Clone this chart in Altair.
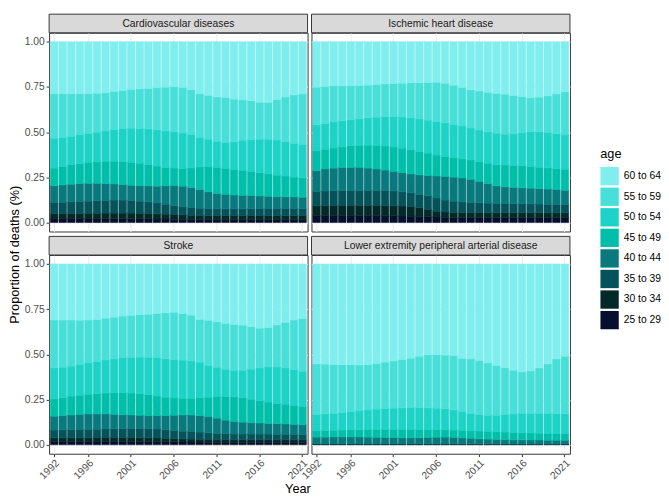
import altair as alt
import pandas as pd
import numpy as np

FONT = "Liberation Sans"

years = list(range(1992, 2022))
tick_years = [1992, 1996, 2001, 2006, 2011, 2016, 2021]
ages = ["25 to 29", "30 to 34", "35 to 39", "40 to 44", "45 to 49", "50 to 54", "55 to 59", "60 to 64"]
age_colors = ["#06102E", "#032A28", "#05535A", "#087A7E", "#00BFAA", "#1DD3C7", "#48DFD9", "#80EEEE"]
causes = ["Cardiovascular diseases", "Ischemic heart disease", "Stroke",
          "Lower extremity peripheral arterial disease"]

# Cumulative proportion reached at the top of each age band, 1992..2021
cvd_29 = [0.022,0.022,0.022,0.022,0.022,0.022,0.021,0.021,0.021,0.020,0.020,0.020,0.019,0.019,0.018,0.018,0.017,0.017,0.017,0.016,0.016,0.016,0.016,0.016,0.016,0.016,0.016,0.016,0.016,0.016]
cvd_34 = [0.050,0.050,0.050,0.050,0.051,0.051,0.052,0.052,0.052,0.052,0.051,0.050,0.048,0.046,0.044,0.042,0.040,0.039,0.038,0.038,0.038,0.038,0.038,0.038,0.038,0.038,0.038,0.038,0.038,0.038]
cvd_39 = [0.111,0.112,0.114,0.116,0.118,0.120,0.122,0.124,0.124,0.122,0.118,0.114,0.108,0.101,0.093,0.088,0.083,0.079,0.077,0.075,0.075,0.075,0.075,0.076,0.077,0.078,0.078,0.078,0.078,0.078]
cvd_44 = [0.203,0.208,0.212,0.215,0.217,0.217,0.215,0.213,0.210,0.206,0.204,0.203,0.201,0.203,0.204,0.201,0.194,0.183,0.170,0.161,0.156,0.152,0.150,0.149,0.147,0.145,0.143,0.142,0.142,0.140]
cvd_49 = [0.301,0.310,0.321,0.326,0.332,0.335,0.339,0.339,0.337,0.333,0.328,0.321,0.312,0.304,0.301,0.299,0.302,0.308,0.310,0.304,0.299,0.294,0.289,0.282,0.275,0.269,0.262,0.257,0.251,0.247]
cvd_54 = [0.466,0.471,0.477,0.486,0.493,0.500,0.507,0.515,0.520,0.522,0.520,0.518,0.513,0.507,0.502,0.495,0.488,0.471,0.461,0.448,0.443,0.446,0.455,0.458,0.461,0.461,0.457,0.448,0.438,0.431]
cvd_59 = [0.713,0.713,0.713,0.713,0.713,0.715,0.718,0.726,0.731,0.737,0.740,0.742,0.746,0.749,0.751,0.746,0.735,0.713,0.704,0.695,0.692,0.683,0.679,0.674,0.665,0.665,0.680,0.695,0.706,0.712]

ihd_29 = [0.038,0.038,0.038,0.038,0.038,0.038,0.038,0.038,0.037,0.037,0.036,0.035,0.034,0.032,0.030,0.028,0.027,0.027,0.027,0.027,0.027,0.027,0.027,0.027,0.027,0.027,0.027,0.027,0.027,0.027]
ihd_34 = [0.092,0.093,0.094,0.094,0.094,0.094,0.094,0.094,0.093,0.092,0.091,0.089,0.082,0.072,0.062,0.058,0.056,0.055,0.055,0.055,0.054,0.054,0.054,0.054,0.054,0.054,0.054,0.054,0.054,0.054]
ihd_39 = [0.172,0.174,0.176,0.177,0.177,0.177,0.178,0.178,0.177,0.175,0.170,0.164,0.156,0.148,0.135,0.124,0.118,0.114,0.111,0.109,0.107,0.106,0.105,0.104,0.104,0.103,0.102,0.101,0.100,0.099]
ihd_44 = [0.287,0.296,0.301,0.305,0.305,0.305,0.301,0.296,0.290,0.283,0.276,0.269,0.264,0.260,0.257,0.255,0.251,0.246,0.239,0.228,0.215,0.203,0.197,0.194,0.192,0.190,0.187,0.185,0.183,0.179]
ihd_49 = [0.398,0.405,0.412,0.419,0.425,0.428,0.428,0.427,0.423,0.418,0.411,0.402,0.393,0.384,0.373,0.366,0.359,0.353,0.346,0.337,0.328,0.320,0.318,0.316,0.314,0.310,0.306,0.302,0.298,0.295]
ihd_54 = [0.541,0.547,0.556,0.563,0.568,0.574,0.579,0.583,0.586,0.586,0.584,0.579,0.574,0.566,0.559,0.552,0.543,0.534,0.523,0.512,0.502,0.494,0.489,0.491,0.496,0.502,0.502,0.498,0.491,0.484]
ihd_59 = [0.749,0.753,0.757,0.757,0.757,0.758,0.760,0.764,0.767,0.769,0.771,0.773,0.773,0.774,0.776,0.771,0.760,0.747,0.735,0.728,0.721,0.715,0.710,0.703,0.696,0.690,0.694,0.701,0.712,0.724]

stroke_29 = [0.018,0.018,0.018,0.018,0.018,0.018,0.018,0.018,0.018,0.017,0.017,0.017,0.016,0.016,0.016,0.015,0.015,0.015,0.014,0.014,0.014,0.014,0.014,0.014,0.014,0.014,0.014,0.014,0.014,0.014]
stroke_34 = [0.038,0.038,0.039,0.039,0.039,0.040,0.040,0.040,0.040,0.040,0.039,0.038,0.037,0.035,0.033,0.032,0.031,0.030,0.029,0.028,0.028,0.028,0.028,0.028,0.028,0.028,0.028,0.028,0.028,0.028]
stroke_39 = [0.081,0.082,0.083,0.084,0.085,0.086,0.087,0.088,0.089,0.090,0.090,0.089,0.087,0.083,0.078,0.075,0.073,0.070,0.066,0.062,0.060,0.059,0.059,0.059,0.059,0.059,0.058,0.058,0.057,0.057]
stroke_44 = [0.158,0.161,0.165,0.168,0.170,0.170,0.170,0.168,0.166,0.165,0.163,0.161,0.161,0.161,0.163,0.165,0.165,0.161,0.156,0.147,0.136,0.129,0.125,0.122,0.120,0.118,0.117,0.115,0.113,0.111]
stroke_49 = [0.254,0.260,0.269,0.274,0.279,0.283,0.286,0.288,0.288,0.286,0.283,0.277,0.270,0.263,0.258,0.256,0.256,0.260,0.263,0.267,0.267,0.265,0.260,0.252,0.243,0.236,0.229,0.224,0.218,0.211]
stroke_54 = [0.425,0.429,0.435,0.444,0.453,0.460,0.469,0.476,0.482,0.484,0.485,0.484,0.482,0.475,0.471,0.468,0.464,0.457,0.439,0.429,0.418,0.412,0.412,0.418,0.425,0.430,0.430,0.425,0.416,0.407]
stroke_59 = [0.690,0.690,0.690,0.689,0.690,0.693,0.700,0.706,0.712,0.716,0.720,0.722,0.726,0.730,0.733,0.726,0.717,0.694,0.688,0.681,0.672,0.666,0.662,0.653,0.645,0.648,0.663,0.677,0.690,0.699]

lepad_29 = [0.001,0.001,0.001,0.001,0.001,0.001,0.001,0.001,0.001,0.001,0.001,0.001,0.001,0.001,0.001,0.001,0.001,0.001,0.001,0.001,0.001,0.001,0.001,0.001,0.001,0.001,0.001,0.001,0.001,0.001]
lepad_34 = [0.002,0.002,0.002,0.002,0.002,0.002,0.002,0.002,0.002,0.002,0.002,0.002,0.002,0.002,0.002,0.002,0.002,0.002,0.002,0.002,0.002,0.002,0.002,0.002,0.002,0.002,0.002,0.002,0.002,0.002]
lepad_39 = [0.006,0.006,0.006,0.006,0.006,0.006,0.006,0.006,0.006,0.006,0.006,0.006,0.006,0.006,0.006,0.006,0.005,0.005,0.005,0.005,0.005,0.004,0.004,0.004,0.004,0.004,0.004,0.004,0.004,0.004]
lepad_44 = [0.042,0.042,0.043,0.043,0.043,0.043,0.042,0.041,0.040,0.040,0.039,0.039,0.039,0.040,0.041,0.042,0.041,0.039,0.036,0.033,0.031,0.029,0.028,0.027,0.027,0.026,0.026,0.025,0.025,0.025]
lepad_49 = [0.078,0.079,0.080,0.081,0.082,0.083,0.084,0.085,0.085,0.085,0.085,0.085,0.084,0.083,0.082,0.082,0.081,0.079,0.077,0.076,0.074,0.072,0.070,0.068,0.066,0.065,0.064,0.063,0.063,0.062]
lepad_54 = [0.167,0.170,0.174,0.179,0.183,0.188,0.192,0.197,0.201,0.202,0.204,0.206,0.206,0.204,0.202,0.199,0.193,0.184,0.174,0.167,0.163,0.163,0.167,0.170,0.174,0.174,0.174,0.174,0.172,0.170]
lepad_59 = [0.448,0.446,0.444,0.443,0.443,0.441,0.443,0.450,0.457,0.464,0.471,0.479,0.490,0.497,0.498,0.496,0.493,0.478,0.475,0.466,0.453,0.439,0.426,0.412,0.403,0.408,0.425,0.448,0.475,0.490]

cum_tops = {
    causes[0]: [cvd_29, cvd_34, cvd_39, cvd_44, cvd_49, cvd_54, cvd_59],
    causes[1]: [ihd_29, ihd_34, ihd_39, ihd_44, ihd_49, ihd_54, ihd_59],
    causes[2]: [stroke_29, stroke_34, stroke_39, stroke_44, stroke_49, stroke_54, stroke_59],
    causes[3]: [lepad_29, lepad_34, lepad_39, lepad_44, lepad_49, lepad_54, lepad_59],
}

rows = []
for cause, tops in cum_tops.items():
    arr = np.vstack([np.zeros(len(years))] + [np.array(t) for t in tops] + [np.ones(len(years))])
    shares = np.diff(arr, axis=0)
    for ai, age in enumerate(ages):
        for yi, yr in enumerate(years):
            rows.append({"cause": cause, "year": yr, "age": age, "age_idx": ai, "share": float(shares[ai, yi])})
df = pd.DataFrame(rows)

W = 264
H = 203
SH = 19

color_scale = alt.Scale(domain=ages[::-1], range=age_colors[::-1])


def panel(cause, show_x, show_y):
    d = df[df["cause"] == cause]
    x_axis = alt.Axis(values=tick_years, labels=show_x, ticks=show_x, labelAngle=-45,
                      labelAlign="right", labelBaseline="top", labelPadding=1,
                      title=None, grid=True, domain=False)
    y_axis = alt.Axis(values=[0, 0.25, 0.5, 0.75, 1.0], labelExpr="format(datum.value, '.2f')",
                      labels=show_y, ticks=show_y, title=None, grid=True, domain=False, labelPadding=2)
    bars = alt.Chart(d).mark_bar(strokeWidth=0.6).encode(
        x=alt.X("year:O", scale=alt.Scale(paddingInner=0.12, paddingOuter=0.15), axis=x_axis),
        y=alt.Y("share:Q", stack="normalize",
                scale=alt.Scale(domain=[-0.05, 1.05], nice=False, zero=False), axis=y_axis),
        color=alt.Color("age:N", scale=color_scale,
                        legend=alt.Legend(title="age", orient="none", legendX=563, legendY=118)),
        stroke=alt.Stroke("age:N", scale=color_scale, legend=None),
        order=alt.Order("age_idx:Q", sort="ascending"),
    )
    sdf = pd.DataFrame({"label": [cause]})
    rect = alt.Chart(sdf).mark_rect(fill="#D9D9D9", stroke="#333333", strokeWidth=1).encode(
        x=alt.value(0), x2=alt.value(W), y=alt.value(-SH), y2=alt.value(0))
    txt = alt.Chart(sdf).mark_text(font=FONT, fontSize=10.5, color="#1A1A1A").encode(
        text="label:N", x=alt.value(W / 2), y=alt.value(-SH / 2 + 0.5))
    return alt.layer(bars, rect, txt).properties(width=W, height=H)


grid = alt.concat(
    panel(causes[0], False, True), panel(causes[1], False, False),
    panel(causes[2], True, True), panel(causes[3], True, False),
    columns=2, spacing={"row": SH + 5, "column": 4}, bounds="flush",
).properties(
    title=alt.TitleParams("Year", orient="bottom", anchor="middle", fontSize=13,
                          fontWeight="normal", font=FONT, color="black", offset=2))
chart = alt.hconcat(grid).properties(
    title=alt.TitleParams("Proportion of deaths (%)", orient="left", anchor="middle", fontSize=13,
                          fontWeight="normal", font=FONT, color="black", offset=2)
).resolve_scale(color="shared", stroke="shared").configure(
    padding={"left": 1, "top": 0, "right": 0, "bottom": 0}, background="white"
).configure_view(
    stroke="#333333", strokeWidth=1
).configure_axis(
    labelFont=FONT, labelFontSize=10.5, labelColor="#4D4D4D", tickColor="#333333",
    tickSize=3, gridColor="#EBEBEB", gridWidth=1
).configure_legend(
    titleFont=FONT, titleFontSize=13, titleFontWeight="normal", titleColor="black",
    labelFont=FONT, labelFontSize=10.5, labelColor="black", symbolType="square",
    symbolSize=350, symbolStrokeWidth=0, symbolOpacity=1, rowPadding=2, labelOffset=5,
    titlePadding=6
)

chart.save("out.html", embed_options={"renderer": "svg", "actions": False})
